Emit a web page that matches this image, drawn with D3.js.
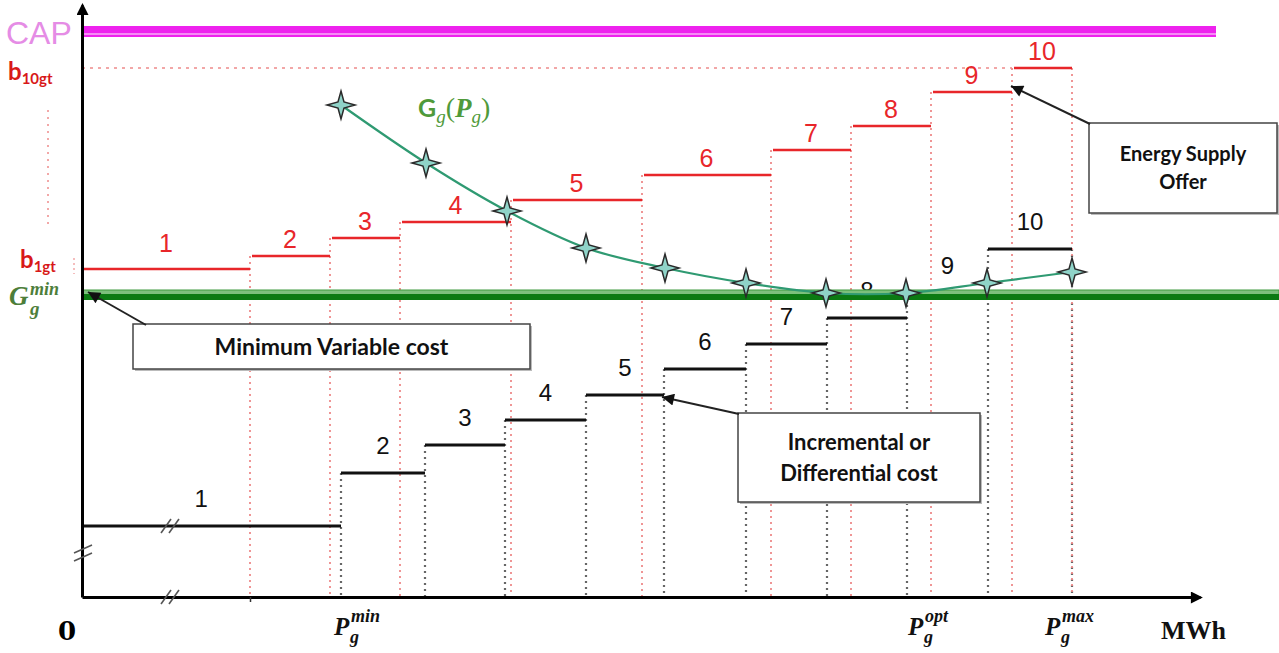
<!DOCTYPE html>
<html><head><meta charset="utf-8">
<script src="https://cdn.jsdelivr.net/npm/d3@7"></script>
<style>body{margin:0;background:#fff;} svg{display:block;}</style>
</head><body>
<script>
// ---- data (x in MWh units, y in cost units) ----
const stepLabels = ["1","2","3","4","5","6","7","8","9","10"];
const offerBreaks = [0,168,248,318,429,560,689,769,849,930,990];
const offerLevels = [328,341,359,375,397,422,447,471,505,529];
const incBreaks   = [0,259,343,423,504,582,664,745,825,906,990];
const incLevels   = [71,124,152,177,202,228,253,279,304,348];
const curveX = [259,344,425,504,583,664,744,824,905,990];
const curveY = [492,434,386,349,329,314,304,304,314,325];
const capLevel = 565;
const b10Level = 529;
const b1Level = 328;
const gMinLevel = 300;
const gMinUpper = 306;
const xMax = 1118, yMax = 592;

const W = 1279, H = 653;
const svg = d3.select("body").append("svg").attr("width", W).attr("height", H);
const x = d3.scaleLinear().domain([0, xMax]).range([82, 1200]);
const y = d3.scaleLinear().domain([0, yMax]).range([597, 5]);

const defs = svg.append("defs");
defs.append("marker").attr("id","ah").attr("viewBox","0 0 10 10").attr("refX",10).attr("refY",5)
  .attr("markerUnits","userSpaceOnUse").attr("markerWidth",15).attr("markerHeight",12).attr("orient","auto")
  .append("path").attr("d","M0,0L10,5L0,10z").attr("fill","#111");
defs.append("marker").attr("id","axh").attr("viewBox","0 0 10 10").attr("refX",8).attr("refY",5)
  .attr("markerUnits","userSpaceOnUse").attr("markerWidth",14).attr("markerHeight",12).attr("orient","auto")
  .append("path").attr("d","M0,0L10,5L0,10z").attr("fill","#000");

const RED = "#e8262a", REDDOT = "#ee8a8a", BLK = "#111", GRAYDOT = "#666";

// left pink dotted guide
svg.append("line").attr("x1",48).attr("x2",48).attr("y1",110).attr("y2",225)
  .attr("stroke","#f2a8a8").attr("stroke-width",2).attr("stroke-dasharray","2,5");
svg.append("line").attr("x1",74).attr("x2",74).attr("y1",258).attr("y2",274)
  .attr("stroke","#f2a8a8").attr("stroke-width",1.5).attr("stroke-dasharray","2,3");

// CAP band
svg.append("rect").attr("x",x(0)).attr("y",y(capLevel)-6).attr("width",x(1134)-x(0)).attr("height",11).attr("fill","#ee22ee");
svg.append("line").attr("x1",x(0)).attr("x2",x(1134)).attr("y1",y(capLevel)+2).attr("y2",y(capLevel)+2)
  .attr("stroke","#f7b0f7").attr("stroke-width",1.5);

// b10 dotted
svg.append("line").attr("x1",x(0)).attr("x2",x(offerBreaks[9])).attr("y1",y(b10Level)).attr("y2",y(b10Level))
  .attr("stroke",REDDOT).attr("stroke-width",1.5).attr("stroke-dasharray","3,5");

// vertical dotted lines (incremental)
const incV = incBreaks.slice(1).map((b,i)=>({b, top: incLevels[Math.min(i+1,9)]}));
svg.append("g").selectAll("line").data(incV).join("line")
  .attr("x1",d=>x(d.b)).attr("x2",d=>x(d.b)).attr("y1",d=>y(d.top)).attr("y2",y(0))
  .attr("stroke",GRAYDOT).attr("stroke-width",2.2).attr("stroke-dasharray","2,4");
// vertical dotted lines (offer)
const offV = offerBreaks.slice(1).map((b,i)=>({b, top: offerLevels[Math.min(i+1,9)]}));
svg.append("g").selectAll("line").data(offV).join("line")
  .attr("x1",d=>x(d.b)).attr("x2",d=>x(d.b)).attr("y1",d=>y(d.top)).attr("y2",y(0))
  .attr("stroke",REDDOT).attr("stroke-width",1.8).attr("stroke-dasharray","2,4");

// incremental steps
const incSteps = incLevels.map((v,i)=>({x0:incBreaks[i],x1:incBreaks[i+1],v,label:stepLabels[i]}));
svg.append("g").selectAll("line").data(incSteps).join("line")
  .attr("x1",d=>x(d.x0)).attr("x2",d=>x(d.x1)).attr("y1",d=>y(d.v)).attr("y2",d=>y(d.v))
  .attr("stroke",BLK).attr("stroke-width",3);
svg.append("g").selectAll("text").data(incSteps).join("text")
  .attr("x",(d,i)=> i===0 ? x(d.x0)+ (x(d.x1)-x(d.x0))*0.46 : (x(d.x0)+x(d.x1))/2)
  .attr("y",d=>y(d.v)-19).attr("text-anchor","middle")
  .attr("font-family","Liberation Sans, Arial, sans-serif").attr("font-size",24).attr("fill",BLK)
  .text(d=>d.label);

// G min band
svg.append("rect").attr("x",x(0)).attr("y",y(gMinUpper)-1).attr("width",W-x(0)).attr("height",6)
  .attr("fill","#7cc07c").attr("stroke","#3f9a3f").attr("stroke-width",1);
svg.append("rect").attr("x",x(0)).attr("y",y(gMinLevel)-3).attr("width",W-x(0)).attr("height",6)
  .attr("fill","#0b7a12");

// offer steps
const offSteps = offerLevels.map((v,i)=>({x0:offerBreaks[i],x1:offerBreaks[i+1],v,label:stepLabels[i]}));
svg.append("g").selectAll("line").data(offSteps).join("line")
  .attr("x1",(d,i)=>x(d.x0)+(i?2:0)).attr("x2",d=>x(d.x1)).attr("y1",d=>y(d.v)).attr("y2",d=>y(d.v))
  .attr("stroke",RED).attr("stroke-width",2.5);
svg.append("g").selectAll("text").data(offSteps).join("text")
  .attr("x",d=>(x(d.x0)+x(d.x1))/2).attr("y",(d,i)=>y(d.v)-(i===0?17:8)).attr("text-anchor","middle")
  .attr("font-family","Liberation Sans, Arial, sans-serif").attr("font-size",25).attr("fill",RED)
  .text(d=>d.label);

// axes
const gx = svg.append("g").attr("transform",`translate(0,${y(0)})`)
  .call(d3.axisBottom(x).tickValues([offerBreaks[1]]).tickSize(5).tickSizeOuter(0).tickFormat(""));
gx.select(".domain").attr("stroke","#000").attr("stroke-width",3).attr("marker-end","url(#axh)");
gx.selectAll(".tick line").attr("stroke","#333").attr("stroke-width",1.5);
const gy = svg.append("g").attr("transform",`translate(${x(0)},0)`)
  .call(d3.axisLeft(y).tickValues([]).tickSizeOuter(0));
gy.select(".domain").attr("stroke","#000").attr("stroke-width",3).attr("marker-end","url(#axh)");

// break marks
function brk(cx, cy){
  [-4,4].forEach(o=>svg.append("line").attr("x1",cx+o-5).attr("y1",cy+7).attr("x2",cx+o+5).attr("y2",cy-7)
    .attr("stroke","#555").attr("stroke-width",1.6));
}
brk(x(88), y(incLevels[0]));
brk(x(88), y(0));
svg.append("g").selectAll("line").data([-4,4]).join("line")
  .attr("x1",74).attr("x2",92).attr("y1",d=>553+d+4).attr("y2",d=>553+d-4)
  .attr("stroke","#555").attr("stroke-width",1.6);

// curve
const pts = curveX.map((v,i)=>[x(v), y(curveY[i])]);
svg.append("path").attr("d", d3.line().curve(d3.curveCatmullRom.alpha(0.5))(pts))
  .attr("fill","none").attr("stroke","#2f9a72").attr("stroke-width",2.2);
const star = "M0,-14 L3,-3 L14,0 L3,3 L0,14 L-3,3 L-14,0 L-3,-3 Z";
svg.append("g").selectAll("path").data(pts).join("path")
  .attr("transform",d=>`translate(${d[0]},${d[1]})`).attr("d",star)
  .attr("fill","#8fd3c8").attr("stroke","#2a2a2a").attr("stroke-width",1.5);

// curve label
const gl = svg.append("text").attr("x",418).attr("y",117).attr("fill","#4f9a3a");
gl.append("tspan").attr("font-family","Lato, sans-serif").attr("font-weight","bold").attr("font-size",25).text("G");
gl.append("tspan").attr("font-family","Liberation Serif, serif").attr("font-style","italic").attr("font-size",19).attr("dy",6).text("g");
gl.append("tspan").attr("font-family","Liberation Serif, serif").attr("font-size",28).attr("dy",-6).text("(");
gl.append("tspan").attr("font-family","Liberation Serif, serif").attr("font-weight","bold").attr("font-style","italic").attr("font-size",27).text("P");
gl.append("tspan").attr("font-family","Liberation Serif, serif").attr("font-style","italic").attr("font-size",19).attr("dy",6).text("g");
gl.append("tspan").attr("font-family","Liberation Serif, serif").attr("font-size",28).attr("dy",-6).text(")");

// left labels
svg.append("text").attr("x",6).attr("y",y(capLevel)+12).attr("font-family","Liberation Sans, Arial, sans-serif")
  .attr("font-size",32).attr("fill","#e58ce5").text("CAP");
function bLabel(px, py, sub){
  const t = svg.append("text").attr("x",px).attr("y",py).attr("fill","#d81818")
    .attr("font-family","Lato, sans-serif").attr("font-weight","bold");
  t.append("tspan").attr("font-size",24).text("b");
  t.append("tspan").attr("font-size",15).attr("dy",4).text(sub);
}
bLabel(8, y(b10Level)+12, "10gt");
bLabel(20, y(b1Level)-1, "1gt");
// G min label (separate text pieces)
const gmY = y(gMinLevel)+8;
const gmStyle = s => s.attr("fill","#4d7e3a").attr("font-family","Liberation Serif, serif")
  .attr("font-weight","bold").attr("font-style","italic");
gmStyle(svg.append("text")).attr("x",9).attr("y",gmY).attr("font-size",27).text("G");
gmStyle(svg.append("text")).attr("x",30).attr("y",gmY-10).attr("font-size",18).text("min");
gmStyle(svg.append("text")).attr("x",30).attr("y",gmY+10).attr("font-size",19).text("g");

// bottom labels
const fam = "Liberation Serif, serif";
svg.append("text").attr("x",x(0)-15).attr("y",640).attr("font-family","DejaVu Serif, serif").attr("font-weight","bold")
  .attr("font-size",26).attr("text-anchor","middle").text("0");
function pLabel(px, sup){
  const st = s => s.attr("fill","#111").attr("font-family",fam).attr("font-weight","bold").attr("font-style","italic");
  st(svg.append("text")).attr("x",px).attr("y",635).attr("font-size",25).text("P");
  st(svg.append("text")).attr("x",px+17).attr("y",622).attr("font-size",18).text(sup);
  st(svg.append("text")).attr("x",px+16).attr("y",643).attr("font-size",18).text("g");
}
pLabel(x(incBreaks[1])-7, "min");
pLabel(x(incBreaks[8])+1, "opt");
pLabel(x(incBreaks[10])-27, "max");
svg.append("text").attr("x",1161).attr("y",639).attr("font-family","Liberation Serif, serif").attr("font-weight","bold")
  .attr("font-size",26).attr("fill","#111").text("MWh");

// annotation boxes
function box(bx, by, bw, bh, lines, fs, ax, ay, tx, ty){
  svg.append("rect").attr("x",bx+2).attr("y",by+2).attr("width",bw).attr("height",bh).attr("fill","#bbb");
  svg.append("rect").attr("x",bx).attr("y",by).attr("width",bw).attr("height",bh)
    .attr("fill","#fff").attr("stroke","#444").attr("stroke-width",1.5);
  lines.forEach((l,i)=>svg.append("text").attr("x",bx+bw/2).attr("y",by+bh/2+fs*0.36+(i-(lines.length-1)/2)*fs*1.4)
    .attr("text-anchor","middle").attr("font-family","Lato, sans-serif").attr("font-weight","bold")
    .attr("font-size",fs).attr("fill","#111").text(l));
  svg.append("line").attr("x1",ax).attr("y1",ay).attr("x2",tx).attr("y2",ty)
    .attr("stroke","#222").attr("stroke-width",2).attr("marker-end","url(#ah)");
}
box(133, 324, 397, 45, ["Minimum Variable cost"], 23, 146, 325, x(6), y(gMinLevel)-5);
box(1089, 123, 188, 90, ["Energy Supply","Offer"], 20, 1090, 124, x(offerBreaks[9])-1, y(offerLevels[8])-6);
box(738, 413, 242, 89, ["Incremental or","Differential cost"], 22, 739, 414, x(incBreaks[5])-2, y(incLevels[4])+2);
</script>
</body></html>
